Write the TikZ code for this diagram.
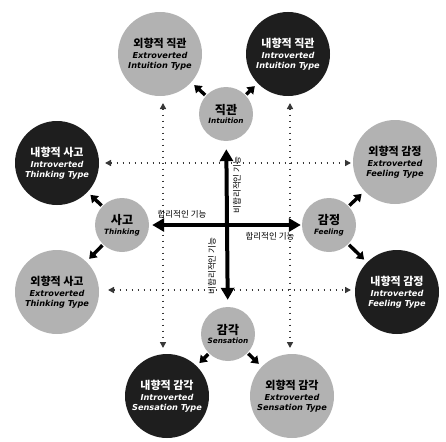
\documentclass[tikz,border=0pt]{standalone}
\usepackage{fontspec}
\usetikzlibrary{arrows.meta}
\newfontfamily\kr{Noto Sans CJK KR}
\newfontfamily\en{DejaVu Sans}
\definecolor{lightc}{RGB}{178,178,178}
\definecolor{darkc}{RGB}{30,30,30}
\definecolor{dotc}{RGB}{55,55,55}
\newcommand\kbig{\kr\bfseries\fontsize{11}{13}\selectfont}
\newcommand\ebig{\en\bfseries\itshape\fontsize{8.2}{9.5}\selectfont}
\newcommand\ksmall{\kr\bfseries\fontsize{12}{14}\selectfont}
\newcommand\esmall{\en\bfseries\itshape\fontsize{7.3}{8.5}\selectfont}
\newcommand\kax{\kr\fontsize{8.5}{10}\selectfont}
\begin{document}
\begin{tikzpicture}[x=1pt,y=-1pt,
  big/.style={circle,minimum size=84pt,inner sep=0pt,align=center,font=\ebig},
  bigl/.style={big,fill=lightc,text=black},
  bigd/.style={big,fill=darkc,text=white},
  small/.style={circle,minimum size=54pt,inner sep=0pt,align=center,fill=lightc,font=\esmall},
  axis/.style={line width=4pt,{Triangle[length=12pt,width=13pt]}-{Triangle[length=12pt,width=13pt]}},
  ptr/.style={line width=3.4pt,-{Triangle[length=7pt,width=9.5pt]},shorten <=1pt,shorten >=4pt},
  dots/.style={dotc,line width=1.6pt,dash pattern=on 1.5pt off 4.5pt,{Triangle[length=6pt,width=6pt]}-{Triangle[length=6pt,width=6pt]}},
  axlab/.style={font=\kax,inner sep=0pt}
]
\useasboundingbox (0,0) rectangle (446,441);

% dotted guide lines
\coordinate (v1t) at (163,103); \coordinate (v1b) at (163,348);
\coordinate (v2t) at (290,103); \coordinate (v2b) at (290,348);
\coordinate (h1l) at (105,163); \coordinate (h1r) at (351,163);
\coordinate (h2l) at (108,290); \coordinate (h2r) at (351,290);
\draw[dots] (v1t) -- (v1b);
\draw[dots] (v2t) -- (v2b);
\draw[dots] (h1l) -- (h1r);
\draw[dots] (h2l) -- (h2r);

% big type circles
\node[bigl] (EI) at (160,54) {{\kbig 외향적 직관}\\[2pt]Extroverted\\Intuition Type};
\node[bigd] (II) at (288,54) {{\kbig 내향적 직관}\\[2pt]Introverted\\Intuition Type};
\node[bigd] (IT) at (57,163) {{\kbig 내향적 사고}\\[2pt]Introverted\\Thinking Type};
\node[bigl] (EF) at (395,162) {{\kbig 외향적 감정}\\[2pt]Extroverted\\Feeling Type};
\node[bigl] (ET) at (57,292) {{\kbig 외향적 사고}\\[2pt]Extroverted\\Thinking Type};
\node[bigd] (IF) at (397,292) {{\kbig 내향적 감정}\\[2pt]Introverted\\Feeling Type};
\node[bigd] (IS) at (167,396) {{\kbig 내향적 감각}\\[2pt]Introverted\\Sensation Type};
\node[bigl] (ES) at (292,396) {{\kbig 외향적 감각}\\[2pt]Extroverted\\Sensation Type};

% small function circles
\node[small] (N) at (226,114) {{\ksmall 직관}\\[1pt]Intuition};
\node[small] (T) at (122,225) {{\ksmall 사고}\\[1pt]Thinking};
\node[small] (F) at (329,225) {{\ksmall 감정}\\[1pt]Feeling};
\node[small] (S) at (228,334) {{\ksmall 감각}\\[1pt]Sensation};

% main axes
\draw[axis,shorten <=3pt,shorten >=1pt] (T) -- (F);
\draw[axis,shorten <=8pt,shorten >=7pt] (N) -- (S);

% short arrows
\draw[ptr] (N) -- (EI);
\draw[ptr] (N) -- (II);
\draw[ptr] (T) -- (IT);
\draw[ptr] (T) -- (ET);
\draw[ptr] (F) -- (EF);
\draw[ptr] (F) -- (IF);
\draw[ptr] (S) -- (IS);
\draw[ptr] (S) -- (ES);

% axis labels
\node[axlab] (L1) at (182,214) {합리적인 기능};
\node[axlab] (L2) at (270,236) {합리적인 기능};
\node[axlab,rotate=90] (L3) at (237,185) {비합리적인 기능};
\node[axlab,rotate=90] (L4) at (212,266) {비합리적인 기능};
\end{tikzpicture}
\end{document}
